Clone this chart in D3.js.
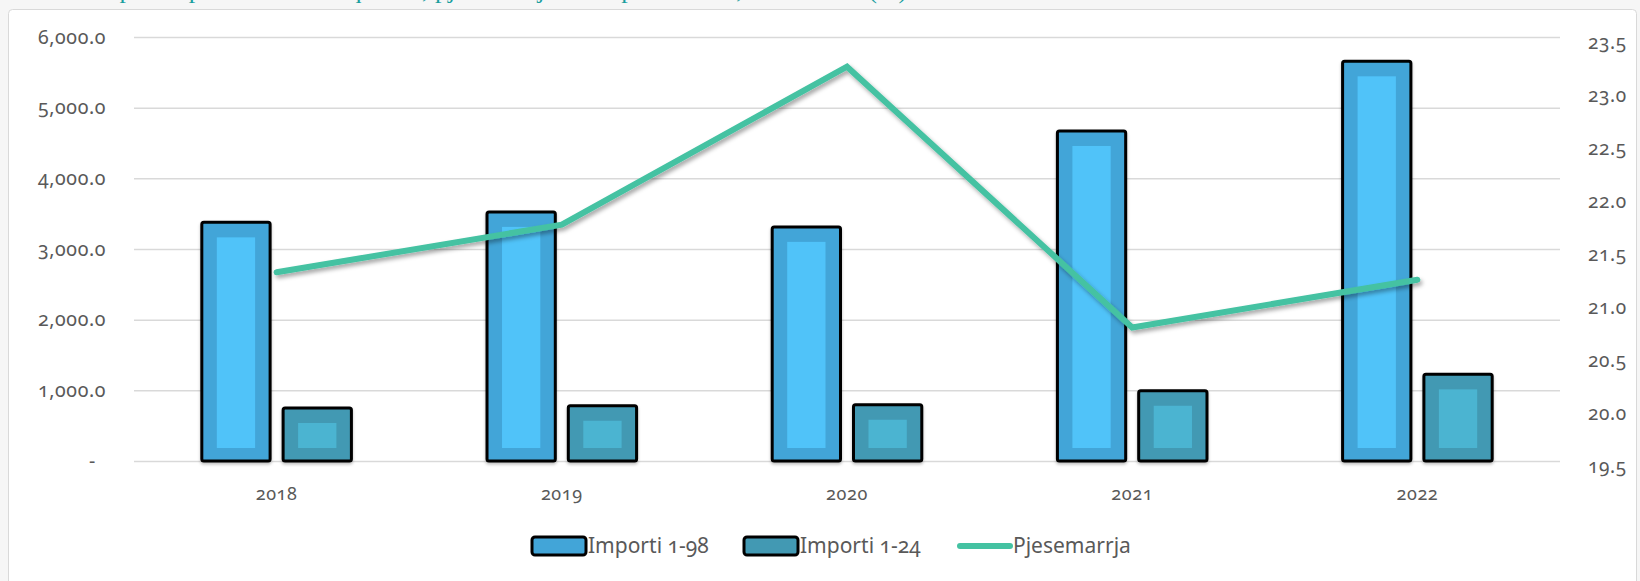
<!DOCTYPE html>
<html>
<head>
<meta charset="utf-8">
<script src="https://cdn.jsdelivr.net/npm/d3@7"></script>
<style>
  body { margin: 0; background: #f6f6f6; }
  svg text { font-family: "Noto Sans", Lato, sans-serif; font-variant-numeric: oldstyle-nums; font-feature-settings: "onum" 1; }
</style>
</head>
<body>
<div id="chart"></div>
<script>
/**
 * DATA
 * */
const years = ["2018", "2019", "2020", "2021", "2022"];
const series = ["Importi 1-98", "Importi 1-24"];
const import198 = [3377, 3525, 3313, 4670, 5656];
const import124 = [750, 782, 796, 994, 1226];
const pjesemarrja = [21.28, 21.73, 23.22, 20.76, 21.21];
const leftTicks = [0, 1000, 2000, 3000, 4000, 5000, 6000];
const rightTicks = [19.5, 20.0, 20.5, 21.0, 21.5, 22.0, 22.5, 23.0, 23.5];

/**
 * CONSTANTS
 * */
const width = 1640,
  height = 581,
  plot = { left: 134, right: 1560, top: 37, bottom: 461 };

const colors = {
  outer: ["#42a5d8", "#4299b3"],
  inner: ["#50c3f9", "#4bb4d1"],
  line: "#44c2a2",
  grid: "#d9d9d9",
  text: "#595959"
};

const svg = d3.select("#chart")
  .append("svg")
  .attr("width", width)
  .attr("height", height);

// shadows
const defs = svg.append("defs");
defs.append("filter").attr("id", "lineShadow")
  .attr("x", "-10%").attr("y", "-10%").attr("width", "120%").attr("height", "130%")
  .append("feDropShadow")
  .attr("dx", 2).attr("dy", 3).attr("stdDeviation", 2)
  .attr("flood-color", "#000").attr("flood-opacity", 0.35);
defs.append("filter").attr("id", "barShadow")
  .attr("x", "-10%").attr("y", "-10%").attr("width", "120%").attr("height", "120%")
  .append("feDropShadow")
  .attr("dx", 0).attr("dy", 2).attr("stdDeviation", 1.5)
  .attr("flood-color", "#000").attr("flood-opacity", 0.25);

// title, only its descenders show above the chart area (as in the source)
svg.append("text")
  .attr("x", 8)
  .attr("y", -2)
  .attr("fill", "#1a9e9e")
  .style("font-family", "'Liberation Serif', serif")
  .style("font-size", "26px")
  .text("Tabela: Importi i produkteve ushqimore, pjesemarrja ne importin total, 2018-2022 (%)");

// chart area
svg.append("rect")
  .attr("x", 8.5).attr("y", 9.5)
  .attr("width", 1628).attr("height", 600)
  .attr("rx", 4)
  .attr("fill", "#fff")
  .attr("stroke", "#d9d9d9");

/**
 * SCALES
 * */
const x0 = d3.scaleBand()
  .domain(years)
  .range([plot.left, plot.right])
  .paddingInner(0.4755)
  .paddingOuter(0.2378);

const x1 = d3.scaleBand()
  .domain(series)
  .range([0, x0.bandwidth()])
  .paddingInner(0.16);

const yLeft = d3.scaleLinear().domain([0, 6000]).range([plot.bottom, plot.top]);
const yRight = d3.scaleLinear().domain([19.5, 23.5]).range([plot.bottom, plot.top]);

/**
 * AXES
 * */
const fmt = d3.format(",.1f");

const leftAxis = svg.append("g")
  .attr("transform", `translate(${plot.left},0)`)
  .call(d3.axisLeft(yLeft).tickValues(leftTicks)
    .tickSize(-(plot.right - plot.left))
    .tickPadding(28)
    .tickFormat(d => d === 0 ? "-" : fmt(d)));
leftAxis.select(".domain").remove();
leftAxis.selectAll(".tick line").attr("stroke", colors.grid).attr("stroke-width", 1.5);
leftAxis.selectAll(".tick text")
  .attr("fill", colors.text)
  .style("font-size", "19.5px")
  .style("letter-spacing", "0.6px")
  .filter(d => d === 0).attr("dx", -10);

const rightAxis = svg.append("g")
  .attr("transform", `translate(${plot.right},0)`)
  .call(d3.axisRight(yRight).tickValues(rightTicks).tickSize(0).tickPadding(28).tickFormat(d3.format(".1f")));
rightAxis.select(".domain").remove();
rightAxis.selectAll(".tick text")
  .attr("fill", colors.text)
  .attr("dy", "0.6em")
  .style("font-size", "19px")
  .style("letter-spacing", "0.6px");

const bottomAxis = svg.append("g")
  .attr("transform", `translate(0,${plot.bottom})`)
  .call(d3.axisBottom(x0).tickSize(0).tickPadding(26));
bottomAxis.select(".domain").remove();
bottomAxis.selectAll(".tick text")
  .attr("fill", colors.text)
  .style("font-size", "18px")
  .style("letter-spacing", "0.6px");

/**
 * BARS
 * */
const rows = years.map((yr, i) => ({ year: yr, values: [import198[i], import124[i]] }));

const group = svg.append("g")
  .selectAll("g")
  .data(rows)
  .join("g")
  .attr("transform", d => `translate(${x0(d.year)},0)`);

const bar = group.selectAll("g")
  .data(d => d.values.map((v, k) => ({ key: series[k], k, value: v })))
  .join("g")
  .attr("transform", d => `translate(${x1(d.key)},0)`);

bar.append("rect")
  .attr("x", 0)
  .attr("y", d => yLeft(d.value))
  .attr("width", x1.bandwidth())
  .attr("height", d => yLeft(0) - yLeft(d.value))
  .attr("rx", 2)
  .attr("fill", d => colors.outer[d.k])
  .attr("stroke", "#000")
  .attr("stroke-width", 3)
  .attr("filter", "url(#barShadow)");

bar.append("rect")
  .attr("x", 15)
  .attr("y", d => yLeft(d.value) + 15)
  .attr("width", x1.bandwidth() - 30)
  .attr("height", d => Math.max(0, yLeft(0) - yLeft(d.value) - 28))
  .attr("fill", d => colors.inner[d.k]);

/**
 * LINE
 * */
const line = d3.line()
  .x((d, i) => x0(years[i]) + x0.bandwidth() / 2)
  .y(d => yRight(d));

svg.append("path")
  .datum(pjesemarrja)
  .attr("d", line)
  .attr("fill", "none")
  .attr("stroke", colors.line)
  .attr("stroke-width", 6)
  .attr("stroke-linecap", "round")
  .attr("filter", "url(#lineShadow)");

/**
 * LEGEND
 * */
const legendY = 546;
const legendItems = [
  { label: series[0], x: 532, type: "bar", k: 0 },
  { label: series[1], x: 744, type: "bar", k: 1 },
  { label: "Pjesemarrja", x: 957, type: "line" }
];

const legend = svg.append("g")
  .selectAll("g")
  .data(legendItems)
  .join("g")
  .attr("transform", d => `translate(${d.x},${legendY})`);

legend.filter(d => d.type === "bar")
  .append("rect")
  .attr("x", 0).attr("y", -9)
  .attr("width", 54).attr("height", 18)
  .attr("rx", 3)
  .attr("fill", d => colors.outer[d.k])
  .attr("stroke", "#000")
  .attr("stroke-width", 3);

legend.filter(d => d.type === "line")
  .append("line")
  .attr("x1", 3).attr("x2", 53)
  .attr("y1", 0).attr("y2", 0)
  .attr("stroke", colors.line)
  .attr("stroke-width", 6)
  .attr("stroke-linecap", "round");

legend.append("text")
  .attr("x", 56)
  .attr("y", 0)
  .attr("dy", "0.35em")
  .attr("fill", colors.text)
  .style("font-size", "21px")
  .text(d => d.label);
</script>
</body>
</html>
